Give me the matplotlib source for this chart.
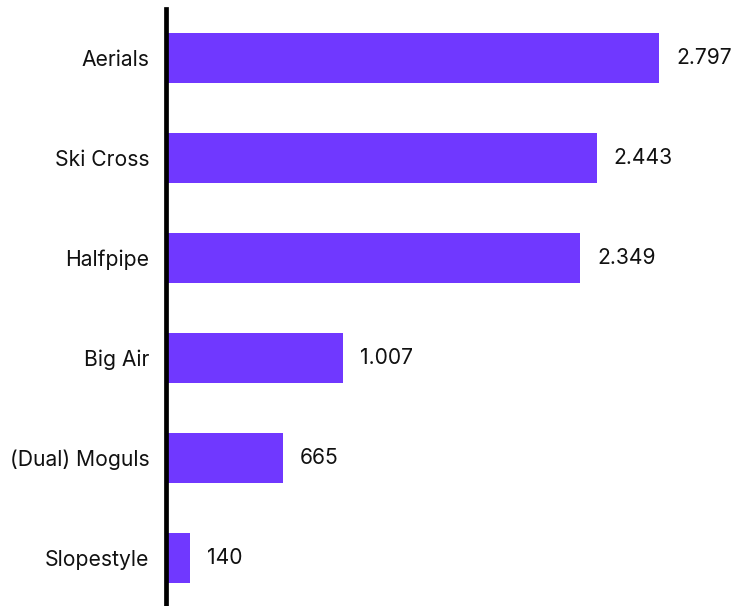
import matplotlib
matplotlib.use("Agg")
import matplotlib.pyplot as plt

categories = ["Aerials", "Ski Cross", "Halfpipe", "Big Air", "(Dual) Moguls", "Slopestyle"]
values = [2797, 2443, 2349, 1007, 665, 140]
value_labels = ["2.797", "2.443", "2.349", "1.007", "665", "140"]

plt.rcParams['font.family'] = ['Inter', 'DejaVu Sans']

W, H = 735, 606
fig = plt.figure(figsize=(W / 100, H / 100), dpi=100)
left = 165.5 / W
ax = fig.add_axes([left, 0, 1 - left, (H - 9) / H])

px_per_unit = (659 - 165.5) / 2797
ax.set_xlim(0, (W - 165.5) / px_per_unit)
ax.set_ylim(5.48, -0.49)

ypos = list(range(len(categories)))
ax.barh(ypos, values, height=0.5, color="#7038FF", zorder=2)
for y, v, lab in zip(ypos, values, value_labels):
    ax.text(v + 17 / px_per_unit, y, lab, va="center", ha="left", fontsize=15.2, color="#111111")

ax.set_yticks(ypos)
ax.set_yticklabels(categories, fontsize=15.2, color="#111111")
ax.tick_params(axis="y", length=0, pad=11.5)
ax.set_xticks([])
for s in ["top", "right", "bottom"]:
    ax.spines[s].set_visible(False)
ax.spines["left"].set_linewidth(3.4)
ax.spines["left"].set_color("black")
ax.spines["left"].set_zorder(3)

fig.savefig("out.png", dpi=100)
